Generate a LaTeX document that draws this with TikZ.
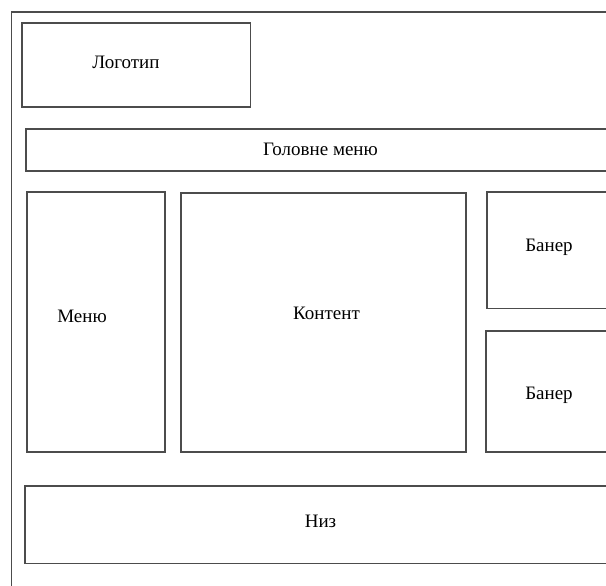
\documentclass[tikz,border=0pt]{standalone}
\usepackage{fontspec}
\setmainfont{Liberation Serif}
\usepackage{tikz}
\usetikzlibrary{positioning}

\tikzset{
  blok/.style={draw=black!70,line width=1.7pt,rectangle,inner sep=0pt,anchor=north west},
  napys/.style={font=\fontsize{19}{23}\selectfont,anchor=base,inner sep=0pt}
}

\begin{document}
\begin{tikzpicture}[x=1pt,y=-1pt]
\useasboundingbox (0,0) rectangle (606,586);
\clip (0,0) rectangle (606,586);

% page frame
\node[blok,minimum width=640pt,minimum height=620pt](ramka) at (10.7,11) {};

\node[blok,minimum width=228.5pt,minimum height=84pt](logo) at (21,22) {};
\node[blok,minimum width=595pt,minimum height=42pt](holovne) at (25,128) {};
\node[blok,minimum width=138pt,minimum height=260pt](menu) at (26,191) {};
\node[blok,minimum width=285pt,minimum height=259pt](kontent) at (180,192) {};
\node[blok,minimum width=134pt,minimum height=116.5pt](baner1) at (486,191) {};
\node[blok,minimum width=135pt,minimum height=121pt](baner2) at (485,330) {};
\node[blok,minimum width=596pt,minimum height=77.5pt](niz) at (24,485) {};

% labels
\node[napys](t_logo) at (126,69) {Логотип};
\node[napys](t_holovne) at (320.5,155) {Головне меню};
\node[napys](t_menu) at (82,322.7) {Меню};
\node[napys](t_kontent) at (326.5,319.3) {Контент};
\node[napys](t_baner1) at (549,251) {Банер};
\node[napys](t_baner2) at (549,399.3) {Банер};
\node[napys](t_niz) at (320.5,527.7) {Низ};
\end{tikzpicture}
\end{document}
